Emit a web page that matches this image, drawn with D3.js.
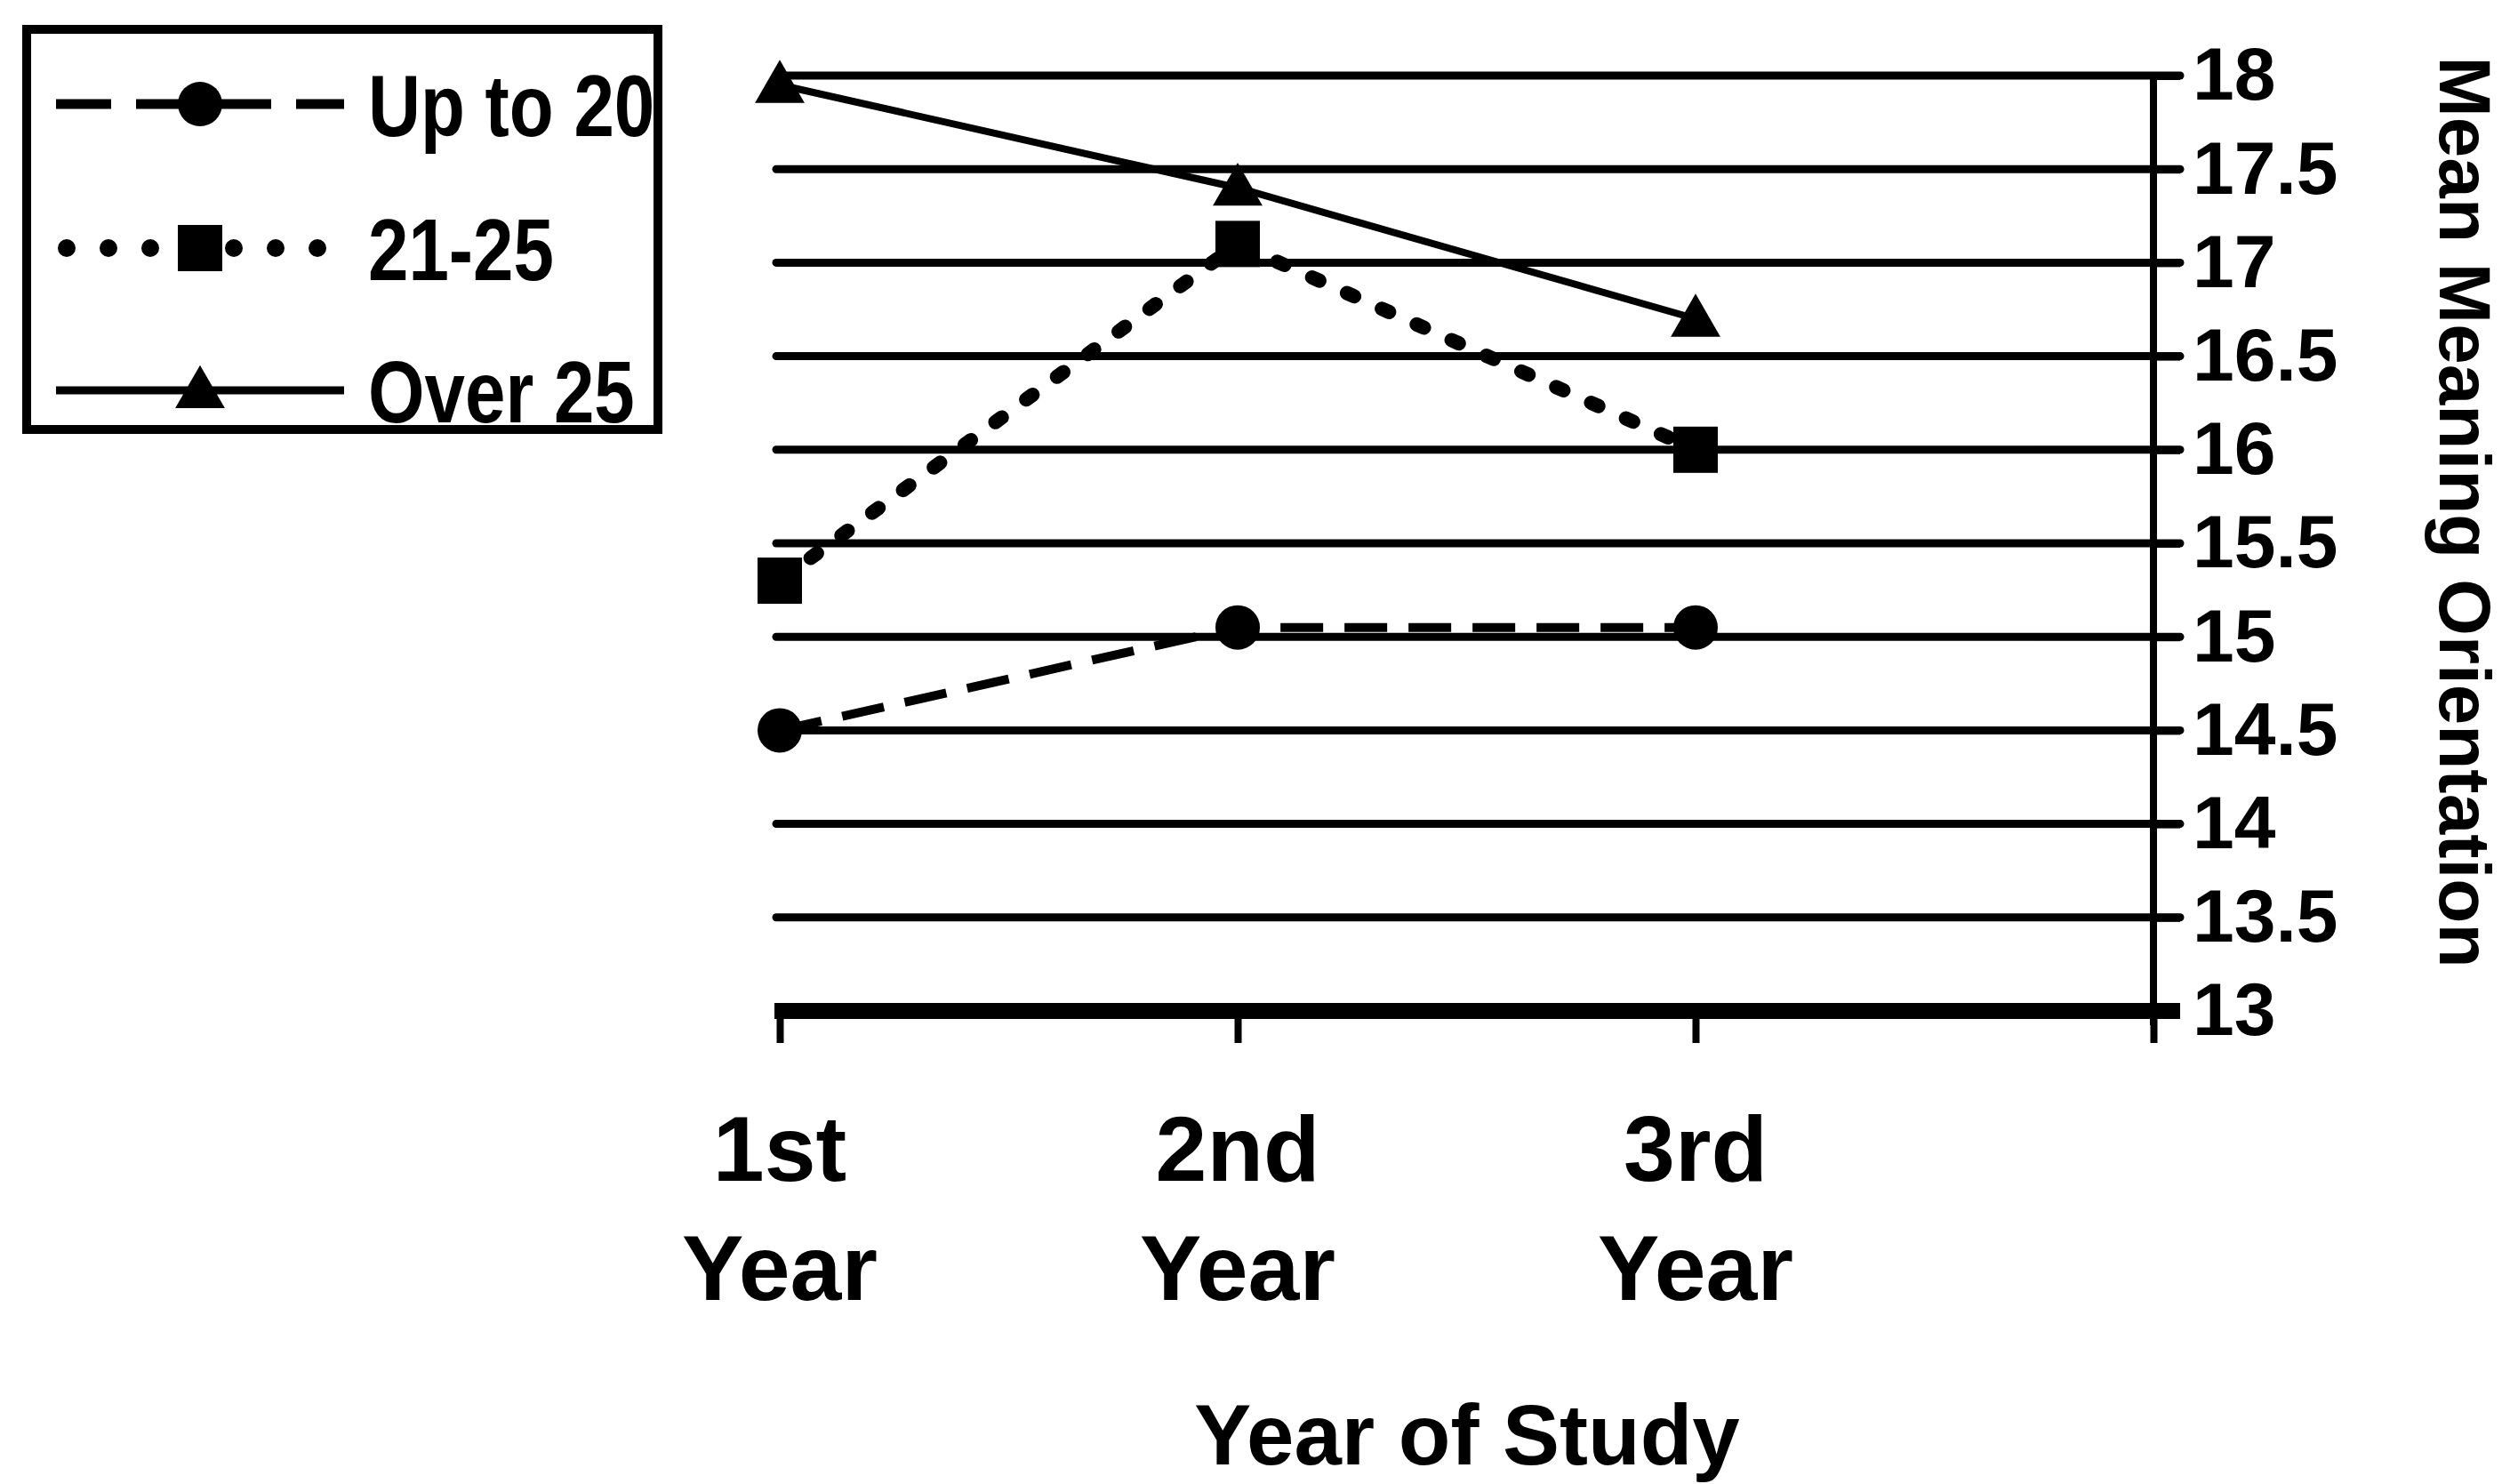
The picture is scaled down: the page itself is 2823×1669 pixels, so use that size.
<!DOCTYPE html>
<html><head><meta charset="utf-8">
<script src="https://cdn.jsdelivr.net/npm/d3@7"></script>
<style>body{margin:0;background:#fff} svg{display:block}</style>
</head><body>
<script>
// ---- data ----
const categories = ["1st Year", "2nd Year", "3rd Year"];
const categoryLines = [["1st", "Year"], ["2nd", "Year"], ["3rd", "Year"]];
const seriesNames = ["Up to 20", "21-25", "Over 25"];
const upTo20 = [14.5, 15.05, 15.05];
const age21to25 = [15.3, 17.1, 16.0];
const over25 = [17.95, 17.4, 16.7];
const yTicks = [13, 13.5, 14, 14.5, 15, 15.5, 16, 16.5, 17, 17.5, 18];
const xTitle = "Year of Study";
const yTitle = "Mean Meaning Orientation";

// ---- layout ----
const W = 2823, H = 1669;
const FONT = "'Liberation Sans', Arial, Helvetica, sans-serif";
const svg = d3.select("body").append("svg").attr("width", W).attr("height", H)
  .style("background", "#fff");

const x = d3.scaleLinear().domain([0, categories.length]).range([877, 2422]);
const y = d3.scaleLinear().domain([13, 18]).range([1137, 85]);

// gridlines
svg.append("g").selectAll("line").data(yTicks.filter(v => v > 13)).join("line")
  .attr("x1", x(0) - 4).attr("x2", x(categories.length) + 30)
  .attr("y1", d => y(d)).attr("y2", d => y(d))
  .attr("stroke", "#000").attr("stroke-width", 9).attr("stroke-linecap", "round");

// right axis
const yAxis = d3.axisRight(y).tickValues(yTicks).tickSize(30).tickPadding(14)
  .tickFormat(d => String(d));
const gy = svg.append("g").attr("transform", `translate(${x(categories.length)},0)`).call(yAxis);
gy.select(".domain").attr("d", `M0,${y(18)}V${y(13) + 16}`).attr("stroke", "#000").attr("stroke-width", 8);
gy.selectAll(".tick line").attr("stroke", "#000").attr("stroke-width", 9);
gy.selectAll(".tick text").attr("font-family", FONT).attr("font-weight", "bold")
  .attr("font-size", 84).attr("fill", "#000");

// bottom axis
const xAxis = d3.axisBottom(x).tickValues(d3.range(categories.length + 1)).tickSize(36).tickFormat("");
const gx = svg.append("g").attr("transform", `translate(0,${y(13)})`).call(xAxis);
gx.select(".domain").attr("d", `M${x(0) - 6},0H${x(categories.length) + 30}`)
  .attr("stroke", "#000").attr("stroke-width", 18);
gx.selectAll(".tick line").attr("stroke", "#000").attr("stroke-width", 8);

// category labels
const cat = svg.append("g").selectAll("text").data(categoryLines).join("text")
  .attr("text-anchor", "middle").attr("font-family", FONT).attr("font-weight", "bold")
  .attr("font-size", 104).attr("fill", "#000");
cat.each(function (lines, i) {
  d3.select(this).selectAll("tspan").data(lines).join("tspan")
    .attr("x", x(i)).attr("y", (d, j) => 1328 + j * 134).text(d => d);
});

// axis titles
svg.append("text").attr("x", 1650).attr("y", 1647).attr("text-anchor", "middle")
  .attr("font-family", FONT).attr("font-weight", "bold").attr("font-size", 96)
  .text(xTitle);
svg.append("text").attr("transform", "translate(2744,576) rotate(90)")
  .attr("text-anchor", "middle").attr("font-family", FONT).attr("font-weight", "bold")
  .attr("font-size", 82).text(yTitle);

// series
const series = [
  { name: seriesNames[0], values: upTo20, dash: "48,24", width: 10, cap: "butt", marker: "circle" },
  { name: seriesNames[1], values: age21to25, dash: "9,34", width: 16, cap: "round", marker: "square" },
  { name: seriesNames[2], values: over25, dash: null, width: 8, cap: "butt", marker: "triangle" }
];
const line = d3.line().x((d, i) => x(i)).y(d => y(d));

function drawMarker(g, type, cx, cy) {
  if (type === "circle") g.append("circle").attr("cx", cx).attr("cy", cy).attr("r", 25).attr("fill", "#000");
  else if (type === "square") g.append("rect").attr("x", cx - 25).attr("y", cy - 26).attr("width", 50).attr("height", 52).attr("fill", "#000");
  else g.append("path").attr("d", d3.symbol(d3.symbolTriangle, 1350)()).attr("transform", `translate(${cx},${cy + 4})`).attr("fill", "#000");
}

const gs = svg.append("g");
series.forEach(s => {
  gs.append("path").attr("d", line(s.values)).attr("fill", "none").attr("stroke", "#000")
    .attr("stroke-width", s.width).attr("stroke-dasharray", s.dash).attr("stroke-linecap", s.cap);
});
series.forEach(s => {
  s.values.forEach((v, i) => drawMarker(gs, s.marker, x(i), y(v)));
});

// legend
const lg = svg.append("g");
lg.append("rect").attr("x", 30).attr("y", 33).attr("width", 710).attr("height", 450)
  .attr("fill", "#fff").attr("stroke", "#000").attr("stroke-width", 10);
const legendY = [117, 279, 439];
const legendDash = ["62,28", "0,47", null];
const legendWidth = [11, 20, 9];
series.forEach((s, i) => {
  const ly = legendY[i];
  lg.append("line").attr("x1", i === 1 ? 75 : 63).attr("x2", 387).attr("y1", ly).attr("y2", ly)
    .attr("stroke", "#000").attr("stroke-width", legendWidth[i])
    .attr("stroke-dasharray", legendDash[i]).attr("stroke-linecap", i === 1 ? "round" : "butt");
  drawMarker(lg, s.marker, 225, ly);
  lg.append("text").attr("transform", `translate(414,${ly}) scale(0.86,1.04)`).attr("dy", "0.36em")
    .attr("font-family", FONT).attr("font-weight", "bold").attr("font-size", 95).text(s.name);
});
</script>
</body></html>
